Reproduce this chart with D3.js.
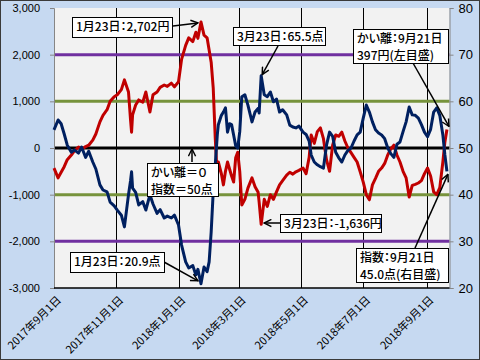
<!DOCTYPE html>
<html><head><meta charset="utf-8">
<script src="https://cdn.jsdelivr.net/npm/d3@7"></script>
<style>
html,body{margin:0;padding:0;background:#fff;}
svg{display:block;}
.cjk{font-family:"Noto Sans CJK JP","Noto Sans",sans-serif;font-feature-settings:"palt";}
.cjkx{font-family:"Noto Sans CJK JP","Noto Sans",sans-serif;}
</style></head>
<body><svg id="c" width="480" height="360"></svg>
<script>
const dates = [
"2017-09-01","2017-09-05","2017-09-08","2017-09-11","2017-09-14","2017-09-18","2017-09-21","2017-09-25","2017-09-28","2017-10-02",
"2017-10-05","2017-10-09","2017-10-12","2017-10-16","2017-10-19","2017-10-23","2017-10-26","2017-10-30","2017-11-02","2017-11-06",
"2017-11-09","2017-11-13","2017-11-15","2017-11-16","2017-11-17","2017-11-20","2017-11-23","2017-11-27","2017-11-30","2017-12-04",
"2017-12-07","2017-12-11","2017-12-14","2017-12-18","2017-12-21","2017-12-25","2017-12-28","2018-01-01","2018-01-04","2018-01-08",
"2018-01-11","2018-01-15","2018-01-18","2018-01-20","2018-01-23","2018-01-26","2018-01-29","2018-01-31","2018-02-02","2018-02-04",
"2018-02-06","2018-02-08","2018-02-09","2018-02-12","2018-02-14","2018-02-16","2018-02-18","2018-02-20","2018-02-22","2018-02-24",
"2018-02-26","2018-02-28","2018-03-02","2018-03-04","2018-03-07","2018-03-10","2018-03-14","2018-03-17","2018-03-20","2018-03-21",
"2018-03-23","2018-03-26","2018-03-29","2018-04-01","2018-04-04","2018-04-07","2018-04-10","2018-04-13","2018-04-17","2018-04-20",
"2018-04-23","2018-04-26","2018-04-29","2018-05-03","2018-05-06","2018-05-09","2018-05-11","2018-05-14","2018-05-17","2018-05-20",
"2018-05-23","2018-05-26","2018-05-29","2018-06-01","2018-06-04","2018-06-07","2018-06-10","2018-06-13","2018-06-16","2018-06-19",
"2018-06-22","2018-06-25","2018-06-28","2018-07-01","2018-07-04","2018-07-07","2018-07-10","2018-07-13","2018-07-16","2018-07-19",
"2018-07-22","2018-07-25","2018-07-28","2018-07-31","2018-08-03","2018-08-06","2018-08-09","2018-08-12","2018-08-15","2018-08-18",
"2018-08-21","2018-08-24","2018-08-27","2018-08-30","2018-09-02","2018-09-05","2018-09-08","2018-09-11","2018-09-14","2018-09-17",
"2018-09-19","2018-09-21"];

// かい離（円, 左目盛）
const kairi = [
-430,-640,-520,-400,-250,-150,-60,20,-30,30,
60,170,300,560,700,820,1000,1100,1140,1250,
1460,1200,600,340,710,920,1030,980,1200,770,
1140,1200,1300,1350,1320,1390,1310,1420,1900,2200,
2360,2280,2480,2350,2702,2420,2360,2100,1840,1290,
210,-640,-300,-550,-790,-500,-300,-450,-600,-730,
-210,-90,-500,-1220,-1100,-860,-640,-830,-950,-1160,
-1636,-1100,-1250,-1000,-1100,-940,-790,-700,-580,-520,
-560,-510,-480,-430,-550,-200,280,100,350,430,
200,-250,-500,60,280,250,340,150,0,-100,
-200,-300,-510,-730,-1000,-1110,-790,-650,-500,-430,
-330,-150,-20,60,-150,-300,-500,-640,-1050,-800,
-780,-750,-700,-550,-430,-600,-940,-1000,-850,-300,
130,397];

// 指数（点, 右目盛）
const shisu = [
53.9,56.0,55.2,53.0,50.6,49.1,49.6,48.9,50.2,48.0,
49.3,47.0,45.5,42.1,41.0,40.6,38.4,37.6,36.7,35.6,
33.1,40.0,43.0,44.9,41.4,40.5,37.8,38.5,36.7,40.0,
38.0,36.0,36.8,35.0,35.4,35.0,35.6,33.5,29.2,25.6,
24.3,24.8,22.8,24.0,20.9,24.5,23.5,25.6,32.0,40.6,
46.4,52.8,55.0,57.0,57.7,58.6,53.4,55.2,55.0,52.8,
50.5,50.0,53.5,61.0,61.4,59.2,55.6,57.7,58.5,57.5,
65.5,61.4,61.0,62.0,59.9,60.5,57.7,58.2,57.1,54.9,
54.5,54.3,54.7,53.4,52.9,51.5,48.5,47.0,46.4,46.0,
45.7,50.6,53.4,52.5,49.1,47.9,47.0,48.5,49.5,50.0,
51.5,52.8,53.4,56.4,59.2,57.7,55.6,53.9,53.2,52.8,
52.0,50.0,48.8,48.0,50.8,51.3,53.5,55.6,58.8,57.1,
57.0,56.4,55.0,53.4,52.4,54.0,57.7,58.6,57.0,52.8,
48.5,45.0];

const leftTicks = [-3000,-2000,-1000,0,1000,2000,3000];
const leftTickLabels = ["-3,000","-2,000","-1,000","0","1,000","2,000","3,000"];
const rightTicks = [20,30,40,50,60,70,80];
const xTickDates = ["2017-09-01","2017-11-01","2018-01-01","2018-03-01","2018-05-01","2018-07-01","2018-09-01"];
const xTickLabels = ["2017年9月1日","2017年11月1日","2018年1月1日","2018年3月1日","2018年5月1日","2018年7月1日","2018年9月1日"];
const refPurple = [2000,-2000];
const refGreen = [1000,-1000];
const refZero = [0];

const parse = d3.utcParse("%Y-%m-%d");
const svg = d3.select("#c");
const W=480,H=360;
const L=54,R=449.5,T=8,B=288;

svg.append("rect").attr("x",0.5).attr("y",0.5).attr("width",W-1).attr("height",H-1)
  .attr("fill","#C6D9F1").attr("stroke","#3a3a3a");
svg.append("rect").attr("x",L).attr("y",T).attr("width",R-L).attr("height",B-T).attr("fill","#F2F2F2");

const x = d3.scaleUtc().domain([parse("2017-09-01"),parse("2018-09-24")]).range([L,450]);
const yL = d3.scaleLinear().domain([-3000,3000]).range([B,T]);
const yR = d3.scaleLinear().domain([20,80]).range([B,T]);

// vertical gridlines
svg.append("g").selectAll("line").data(xTickDates.slice(1)).join("line")
  .attr("x1",d=>Math.round(x(parse(d)))+0.5).attr("x2",d=>Math.round(x(parse(d)))+0.5)
  .attr("y1",T).attr("y2",B).attr("stroke","#000").attr("stroke-width",1);

// reference lines
const refs = svg.append("g");
refs.selectAll(".p").data(refPurple).join("line").attr("x1",L).attr("x2",R)
  .attr("y1",d=>yL(d)).attr("y2",d=>yL(d)).attr("stroke","#7030A0").attr("stroke-width",3);
refs.selectAll(".g").data(refGreen).join("line").attr("x1",L).attr("x2",R)
  .attr("y1",d=>yL(d)).attr("y2",d=>yL(d)).attr("stroke","#77933C").attr("stroke-width",3);
refs.selectAll(".z").data(refZero).join("line").attr("x1",L).attr("x2",R)
  .attr("y1",d=>yL(d)).attr("y2",d=>yL(d)).attr("stroke","#000").attr("stroke-width",3);

// axes
const gl = svg.append("g").attr("transform",`translate(${L},0)`)
  .call(d3.axisLeft(yL).tickValues(leftTicks).tickSize(4).tickPadding(10)
    .tickFormat((d,i)=>leftTickLabels[i]));
gl.select(".domain").attr("stroke","#868686");
gl.selectAll(".tick line").attr("stroke","#868686");
gl.selectAll("text").attr("font-family","'Liberation Sans',Arial,sans-serif").attr("font-size",11).attr("fill","#000");

const gr = svg.append("g").attr("transform",`translate(${R},0)`)
  .call(d3.axisRight(yR).tickValues(rightTicks).tickSize(4).tickPadding(5));
gr.select(".domain").attr("stroke","#868686");
gr.selectAll(".tick line").attr("stroke","#868686");
gr.selectAll("text").attr("font-family","'Liberation Sans',Arial,sans-serif").attr("font-size",13).attr("fill","#000");

svg.append("line").attr("x1",L).attr("x2",R).attr("y1",B).attr("y2",B).attr("stroke","#000").attr("stroke-width",1.5);

// x labels
svg.append("g").selectAll("text").data(xTickDates).join("text")
  .attr("class","cjkx")
  .attr("transform",d=>`translate(${x(parse(d))+5},${B+10}) rotate(-45)`)
  .attr("text-anchor","end").attr("dy","0.35em")
  .attr("font-size",11).attr("fill","#000")
  .text((d,i)=>xTickLabels[i]);

// lines
const pts = d3.zip(dates,kairi,shisu).map(([d,k,s])=>({d:parse(d),k,s}));
svg.append("path").datum(pts).attr("fill","none").attr("stroke","#C00000").attr("stroke-width",3)
  .attr("stroke-linejoin","round")
  .attr("d",d3.line().x(p=>x(p.d)).y(p=>yL(p.k)));
svg.append("path").datum(pts).attr("fill","none").attr("stroke","#002060").attr("stroke-width",3)
  .attr("stroke-linejoin","round")
  .attr("d",d3.line().x(p=>x(p.d)).y(p=>yR(p.s)));

// arrow marker
const defs = svg.append("defs");
defs.append("marker").attr("id","arr").attr("viewBox","0 0 10 10").attr("refX",9).attr("refY",5)
  .attr("markerWidth",9).attr("markerHeight",9).attr("markerUnits","userSpaceOnUse").attr("orient","auto")
  .append("path").attr("d","M1,1 L9,5 L1,9").attr("fill","none").attr("stroke","#000").attr("stroke-width",1.6);

function arrow(x1,y1,x2,y2){
  svg.append("line").attr("x1",x1).attr("y1",y1).attr("x2",x2).attr("y2",y2)
    .attr("stroke","#000").attr("stroke-width",1.5).attr("marker-end","url(#arr)");
}
function box(x0,y0,w,h,lines){
  svg.append("rect").attr("x",x0+0.5).attr("y",y0+0.5).attr("width",w).attr("height",h)
    .attr("fill","#fff").attr("stroke","#000").attr("stroke-width",1);
  lines.forEach((s,i)=>svg.append("text").attr("class","cjk").attr("font-size",12).attr("font-weight",500)
    .attr("fill","#000").attr("x",x0+4).attr("y",y0+14+i*16.5).text(s));
}

const pt = ds => pts.find(p=>+p.d===+parse(ds));

// annotations
const a1 = pt("2018-01-23");
arrow(173,26,x(a1.d)-3,yL(a1.k)+1);
box(72,17,100,20,["1月23日：2,702円"]);

const a2 = pt("2018-03-23");
arrow(278,46,x(a2.d)+1,yR(a2.s)-1);
box(233,27,92,18,["3月23日：65.5点"]);

const a3 = pt("2018-09-21");
arrow(413,63,x(a3.d)+2,yL(a3.k)-3);
box(353,29,95,34,["かい離：9月21日","397円(左目盛)"]);

arrow(415,248,x(a3.d)+1,yR(a3.s)+3);
box(356,248,92,34,["指数：9月21日","45.0点(右目盛)"]);

arrow(280,223,x(a2.d)+3,223);
box(280,214,101,18,["3月23日：-1,636円"]);

arrow(192,162,192,yL(0)+1);
box(147,163,71,33,["かい離＝０","指数＝50点"]);

arrow(164,262,x(a1.d)-3,yR(a1.s)-3);
box(70,252,94,20,["1月23日：20.9点"]);
</script></body></html>
